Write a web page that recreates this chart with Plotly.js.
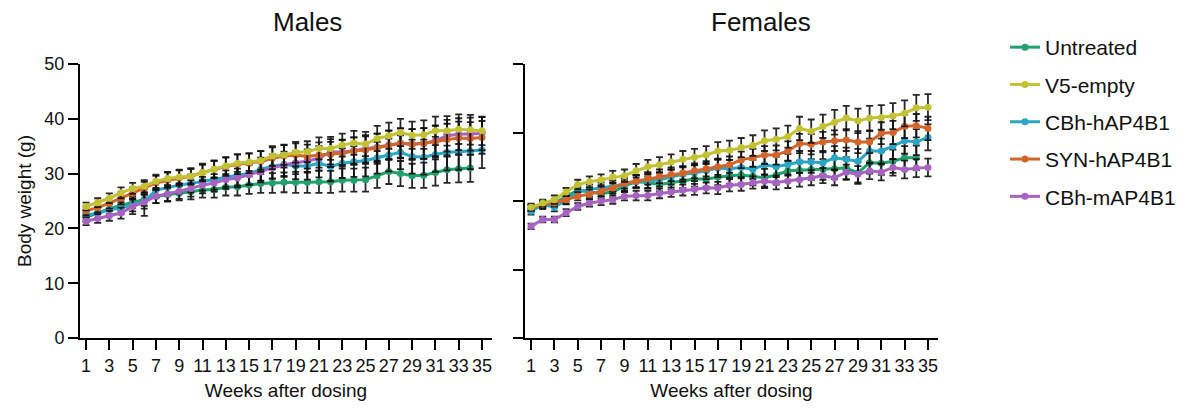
<!DOCTYPE html>
<html>
<head>
<meta charset="utf-8">
<script src="https://cdn.plot.ly/plotly-3.0.1.min.js"></script>
<style>html,body{margin:0;padding:0;background:#fff;}#chart{width:1187px;height:408px;}</style>
</head>
<body>
<div id="chart"></div>
<script>
// ---- data ----
const weeks = [1,2,3,4,5,6,7,8,9,10,11,12,13,14,15,16,17,18,19,20,21,22,23,24,25,26,27,28,29,30,31,32,33,34,35];
const weeksUntreated = [1,2,3,4,5,6,7,8,9,10,11,12,13,14,15,16,17,18,19,20,21,22,23,24,25,26,27,28,29,30,31,32,33,34];
const tickWeeks = [1,3,5,7,9,11,13,15,17,19,21,23,25,27,29,31,33,35];
const tickLabels = ["1","3","5","7","9","11","13","15","17","19","21","23","25","27","29","31","33","35"];
const groupNames = ["Untreated","V5-empty","CBh-hAP4B1","SYN-hAP4B1","CBh-mAP4B1"];

// Males: mean body weight (g)
const mUntreated = [22.0,22.8,23.6,24.2,24.8,25.3,25.8,26.2,26.4,26.7,27.0,27.1,27.5,27.6,27.9,28.2,28.3,28.4,28.4,28.4,28.5,28.5,28.8,28.8,28.9,29.6,30.4,30.0,29.6,29.7,30.2,30.7,30.9,31.0];
const mV5 = [24.0,24.7,25.5,26.5,27.3,27.7,28.6,29.1,29.4,29.5,30.2,30.8,31.4,31.9,32.1,32.4,33.2,33.4,33.9,34.0,34.6,34.6,35.2,35.6,35.4,36.4,36.9,37.5,37.0,37.1,37.8,37.8,38.1,38.0,37.8];
const mCBhH = [22.4,22.8,23.4,23.7,24.3,24.9,27.0,27.5,27.9,28.2,28.6,28.9,29.4,29.7,30.0,30.8,31.3,31.7,31.4,31.4,31.9,31.3,31.9,32.2,32.4,32.9,33.4,33.9,33.1,33.0,33.5,33.9,34.0,34.1,34.3];
const mSYN = [23.2,23.8,24.6,25.5,26.4,27.3,28.3,28.8,29.2,29.5,30.2,30.8,31.3,31.7,31.9,32.2,32.8,33.2,33.4,33.1,33.4,33.5,33.7,34.1,34.3,34.7,35.2,35.6,35.3,35.5,35.8,36.2,36.5,36.4,36.6];
const mCBhM = [21.3,21.8,22.3,22.8,24.0,24.8,25.9,26.3,26.8,27.3,27.9,28.3,28.9,29.2,29.8,30.3,31.0,31.6,32.0,32.3,32.8,34.0,33.9,34.2,34.5,34.8,35.2,35.5,35.4,35.5,36.0,36.9,37.2,37.2,37.3];
// Males: SD
const mUntreatedSD = [0.8,0.9,1.0,1.0,1.1,1.2,1.2,1.3,1.3,1.4,1.4,1.5,1.5,1.6,1.6,1.7,1.8,1.8,1.9,1.9,2.0,2.0,2.1,2.1,2.2,2.2,2.3,2.3,2.2,2.3,2.4,2.4,2.5,2.5];
const mV5SD = [0.7,0.8,0.9,1.0,1.0,1.1,1.2,1.2,1.3,1.3,1.4,1.5,1.5,1.6,1.6,1.7,1.8,1.8,1.9,1.9,2.0,2.1,2.1,2.2,2.2,2.3,2.4,2.5,2.5,2.6,2.6,2.7,2.7,2.7,2.6];
const mCBhHSD = [0.9,1.0,1.0,1.1,1.2,1.3,1.4,1.5,1.5,1.6,1.7,1.8,1.8,1.9,2.0,2.1,2.2,2.3,2.4,2.5,2.6,2.7,2.7,2.8,2.9,2.9,3.0,3.1,3.1,3.2,3.2,3.3,3.3,3.3,3.3];
const mSYNSD = [0.8,0.9,1.0,1.1,1.1,1.2,1.3,1.4,1.4,1.5,1.6,1.6,1.7,1.8,1.8,1.9,2.0,2.1,2.1,2.2,2.3,2.3,2.4,2.5,2.5,2.6,2.7,2.7,2.8,2.8,2.9,2.9,3.0,3.0,3.0];
const mCBhMSD = [0.7,0.8,0.9,1.0,1.4,2.5,1.3,1.3,1.4,1.5,1.5,1.6,1.7,1.7,1.8,1.9,1.9,2.0,2.1,2.1,2.2,2.3,2.3,2.4,2.5,2.5,2.6,2.7,2.7,2.8,2.8,2.9,2.9,3.0,3.0];

// Females: mean body weight (g)
const fUntreated = [18.9,19.3,19.7,20.6,21.6,21.3,21.1,21.3,22.2,22.8,22.7,22.4,22.7,22.9,23.2,23.2,23.5,23.7,23.8,23.6,23.4,23.8,24.4,24.5,24.6,24.6,24.7,24.8,24.1,25.6,25.5,25.8,26.3,26.3];
const fV5 = [19.1,19.7,20.2,21.3,22.4,22.8,23.1,23.5,23.7,24.4,25.0,25.3,25.7,26.1,26.4,26.7,27.3,27.4,27.8,28.1,28.8,29.0,29.4,30.6,30.2,30.9,31.5,32.1,31.7,32.1,32.2,32.4,32.8,33.6,33.7];
const fCBhH = [18.5,19.5,19.1,20.1,21.3,21.7,21.9,22.2,22.4,22.9,22.9,23.1,23.5,23.9,24.1,24.4,24.8,24.7,24.9,24.6,25.3,25.0,25.3,25.7,25.7,25.6,26.3,26.1,25.8,27.3,27.3,28.0,28.8,28.6,29.3];
const fSYN = [19.0,19.5,19.7,20.2,20.7,21.0,21.4,21.9,22.6,22.9,23.3,23.6,23.9,24.1,24.4,24.7,25.0,25.3,26.0,26.3,26.7,26.7,27.3,28.4,28.3,28.6,28.8,28.9,28.6,28.6,29.9,30.0,30.9,31.0,30.6];
const fCBhM = [16.3,17.3,17.3,18.3,19.2,19.7,20.0,20.2,20.7,20.8,20.8,21.1,21.3,21.6,21.7,21.9,21.9,22.3,22.4,22.7,22.9,22.7,22.9,23.1,23.4,23.7,23.4,24.2,23.9,24.4,24.2,24.9,24.6,24.8,24.9];
// Females: SD
const fUntreatedSD = [0.5,0.5,0.6,0.6,0.7,0.7,0.8,0.8,0.8,0.9,0.9,1.0,1.0,1.0,1.1,1.1,1.2,1.2,1.2,1.3,1.3,1.4,1.4,1.4,1.5,1.5,1.5,1.6,1.6,1.6,1.7,1.7,1.7,1.8];
const fV5SD = [0.5,0.5,0.6,0.6,0.7,0.8,0.8,0.9,0.9,1.0,1.0,1.1,1.1,1.2,1.2,1.3,1.3,1.4,1.4,1.5,1.5,1.6,1.6,1.7,1.7,1.7,1.8,1.8,1.8,1.8,1.8,1.9,1.9,1.9,1.9];
const fCBhHSD = [0.5,0.5,0.6,0.6,0.7,0.7,0.8,0.8,0.9,0.9,1.0,1.0,1.1,1.1,1.2,1.2,1.3,1.3,1.4,1.4,1.5,1.5,1.6,1.6,1.6,1.7,1.7,1.7,1.8,1.8,1.8,1.9,1.9,1.9,1.9];
const fSYNSD = [0.4,0.5,0.5,0.6,0.6,0.7,0.7,0.8,0.8,0.9,0.9,1.0,1.0,1.0,1.1,1.1,1.2,1.2,1.2,1.3,1.3,1.4,1.4,1.4,1.5,1.5,1.5,1.6,1.6,1.6,1.6,1.7,1.7,1.7,1.7];
const fCBhMSD = [0.4,0.4,0.4,0.5,0.5,0.5,0.6,0.6,0.6,0.7,0.7,0.7,0.7,0.8,0.8,0.8,0.9,0.9,0.9,0.9,1.0,1.0,1.0,1.0,1.1,1.1,1.1,1.1,1.2,1.2,1.2,1.2,1.3,1.3,1.3];

// ---- styles ----
const colors = {"Untreated":"#22a06b","V5-empty":"#c3c234","CBh-hAP4B1":"#2aa6c4","SYN-hAP4B1":"#d3652b","CBh-mAP4B1":"#a763c1"};
const rank = {"Untreated":1,"V5-empty":2,"CBh-hAP4B1":3,"SYN-hAP4B1":4,"CBh-mAP4B1":5};

// drawing order (later = on top)
const series = [
  {name:"Untreated", x:weeksUntreated, m:mUntreated, msd:mUntreatedSD, f:fUntreated, fsd:fUntreatedSD},
  {name:"CBh-hAP4B1", x:weeks, m:mCBhH, msd:mCBhHSD, f:fCBhH, fsd:fCBhHSD},
  {name:"CBh-mAP4B1", x:weeks, m:mCBhM, msd:mCBhMSD, f:fCBhM, fsd:fCBhMSD},
  {name:"SYN-hAP4B1", x:weeks, m:mSYN, msd:mSYNSD, f:fSYN, fsd:fSYNSD},
  {name:"V5-empty", x:weeks, m:mV5, msd:mV5SD, f:fV5, fsd:fV5SD}
];

function trace(s, y, sd, xa, ya, show) {
  return {
    type:"scatter", mode:"lines+markers", name:s.name, x:s.x, y:y,
    xaxis:xa, yaxis:ya, legendgroup:s.name, legendrank:rank[s.name], showlegend:show,
    line:{color:colors[s.name], width:3},
    marker:{color:colors[s.name], size:7, symbol:"circle"},
    error_y:{type:"data", array:sd, visible:true, color:"rgba(15,15,15,0.9)", thickness:1.8, width:3.5}
  };
}
const data = [];
series.forEach(s => data.push(trace(s, s.m, s.msd, "x", "y", true)));
series.forEach(s => data.push(trace(s, s.f, s.fsd, "x2", "y2", false)));

const W = 1187, H = 408;
const fontFam = "Liberation Sans, Arial, sans-serif";
const yDom = [1 - 338/H, 1 - 64/H];
const axCommon = {showline:true, linecolor:"#000", linewidth:2, ticks:"outside", ticklen:10, tickwidth:2, tickcolor:"#000",
  showgrid:false, zeroline:false, tickfont:{family:fontFam, size:18, color:"#111"}};

const layout = {
  width:W, height:H, margin:{l:0,r:0,t:0,b:0}, paper_bgcolor:"#fff", plot_bgcolor:"#fff",
  font:{family:fontFam, color:"#111"},
  showlegend:true,
  xaxis:Object.assign({}, axCommon, {domain:[80/W, 492/W], range:[0.48, 35.86], tickmode:"array", tickvals:tickWeeks, ticktext:tickLabels,
    anchor:"y", title:{text:"Weeks after dosing", font:{family:fontFam, size:19, color:"#111"}, standoff:9}}),
  yaxis:Object.assign({}, axCommon, {domain:yDom, range:[0,50], tickmode:"linear", tick0:0, dtick:10, anchor:"x",
    title:{text:"Body weight (g)", font:{family:fontFam, size:19, color:"#111"}, standoff:8}}),
  xaxis2:Object.assign({}, axCommon, {domain:[525/W, 938/W], range:[0.48, 35.86], tickmode:"array", tickvals:tickWeeks, ticktext:tickLabels,
    anchor:"y2", title:{text:"Weeks after dosing", font:{family:fontFam, size:19, color:"#111"}, standoff:9}}),
  yaxis2:Object.assign({}, axCommon, {domain:yDom, range:[0,40], tickmode:"linear", tick0:0, dtick:10, anchor:"x2", showticklabels:false}),
  legend:{x:1005/W, xanchor:"left", y:1 - 27/H, yanchor:"top", font:{family:fontFam, size:21, color:"#111"},
    traceorder:"grouped", tracegroupgap:7, bgcolor:"rgba(0,0,0,0)", itemwidth:30},
  annotations:[
    {text:"Males", xref:"paper", yref:"paper", x:308/W, y:1 - 22/H, xanchor:"center", yanchor:"middle", showarrow:false, font:{family:fontFam, size:26, color:"#111"}},
    {text:"Females", xref:"paper", yref:"paper", x:761/W, y:1 - 22/H, xanchor:"center", yanchor:"middle", showarrow:false, font:{family:fontFam, size:26, color:"#111"}}
  ]
};
Plotly.newPlot("chart", data, layout, {staticPlot:true, displayModeBar:false});
</script>
</body>
</html>
